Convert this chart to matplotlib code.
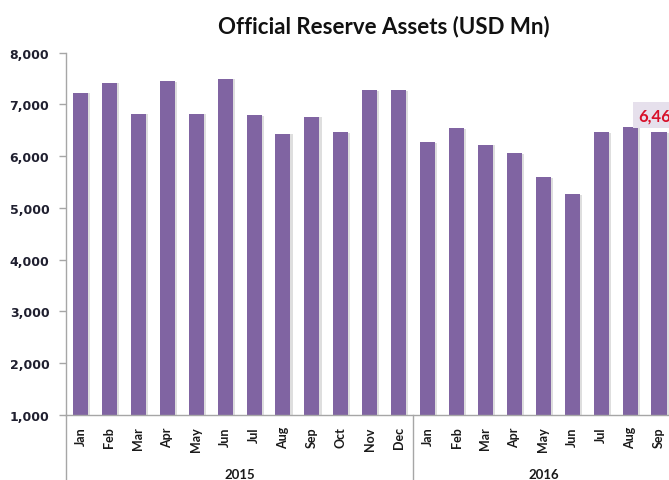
import matplotlib.pyplot as plt
import matplotlib.patheffects as pe

# monthly official reserve assets, USD Mn
months = ["Jan", "Feb", "Mar", "Apr", "May", "Jun", "Jul", "Aug", "Sep", "Oct", "Nov", "Dec",
          "Jan", "Feb", "Mar", "Apr", "May", "Jun", "Jul", "Aug", "Sep"]
reserves = [7226, 7420, 6820, 7445, 6820, 7497, 6787, 6433, 6762, 6464, 7277, 7277,
            6271, 6542, 6220, 6058, 5594, 5265, 6464, 6569, 6463]
years = ["2015", "2016"]
year_sizes = [12, 9]

bar_color = "#8064A2"
axis_color = "#A6A6A6"

fig = plt.figure(figsize=(6.69, 4.81), dpi=100)
ax = fig.add_axes([0.0987, 0.1351, 0.908, 0.7536])

x = list(range(len(reserves)))
bars = ax.bar(x, reserves, width=0.52, color=bar_color, bottom=0)
for b in bars:
    b.set_path_effects([pe.SimplePatchShadow(offset=(1.5, -0.5), shadow_rgbFace="#BFBFBF", alpha=0.5),
                        pe.Normal()])

ax.set_xlim(-0.5, len(reserves) - 0.5)
ax.set_ylim(1000, 8000)
ax.set_yticks(range(1000, 8001, 1000))
ax.set_yticklabels([f"{v:,}" for v in range(1000, 8001, 1000)],
                   fontsize=9, fontweight="bold", color="#1F1F2F", family="DejaVu Sans")
ax.tick_params(axis="y", length=5, width=1, color=axis_color, pad=7)

ax.set_xticks(x)
ax.set_xticklabels(months, rotation=90, fontsize=9, family="Lato", fontweight="bold",
                   color="#1A1A1A")
ax.tick_params(axis="x", length=0, pad=8)

for s in ["top", "right"]:
    ax.spines[s].set_visible(False)
for s in ["left", "bottom"]:
    ax.spines[s].set_color(axis_color)
    ax.spines[s].set_linewidth(1)

# year groups under the month labels
start = 0
trans = ax.get_xaxis_transform()
for yr, n in zip(years, year_sizes):
    ax.plot([start - 0.5, start - 0.5], [0, -0.3], transform=trans, color=axis_color,
            lw=1, clip_on=False)
    ax.text(start + (n - 1) / 2, -0.163, yr, transform=trans, ha="center", va="center",
            fontsize=9.5, family="Lato", fontweight="bold", color="#1A1A1A")
    start += n

# value callout on the latest month
last = len(reserves) - 1
ax.annotate(f"{reserves[last]:,}", (last, reserves[last]), xytext=(0, 12),
            textcoords="offset points", ha="center", va="center",
            fontsize=12, fontweight="bold", family="Lato", color="#D8102A",
            bbox=dict(boxstyle="square,pad=0.3", facecolor="#E6E0EC", edgecolor="none"))

fig.text(384 / 669, 1 - 27 / 481, "Official Reserve Assets (USD Mn)", ha="center", va="center",
         fontsize=16, fontweight="bold", family="Lato", color="#111111")

fig.savefig("out.png", dpi=100)
